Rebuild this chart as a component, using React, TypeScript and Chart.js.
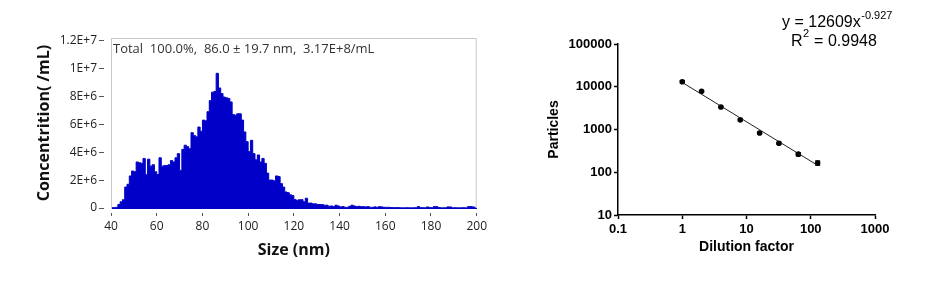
import React, { useEffect, useRef } from 'react';
import { Chart, registerables } from 'chart.js';

Chart.register(...registerables);

// ---------- Left chart: size distribution ----------
const sizeNm = [
  40, 41, 42, 43, 44, 45, 46, 47, 48, 49, 50, 51, 52, 53, 54, 55, 56, 57, 58, 59,
  60, 61, 62, 63, 64, 65, 66, 67, 68, 69, 70, 71, 72, 73, 74, 75, 76, 77, 78, 79,
  80, 81, 82, 83, 84, 85, 86, 87, 88, 89, 90, 91, 92, 93, 94, 95, 96, 97, 98, 99,
  100, 101, 102, 103, 104, 105, 106, 107, 108, 109, 110, 111, 112, 113, 114, 115, 116, 117, 118, 119,
  120, 121, 122, 123, 124, 125, 126, 127, 128, 129, 130, 131, 132, 133, 134, 135, 136, 137, 138, 139,
  140, 141, 142, 143, 144, 145, 146, 147, 148, 149, 150, 151, 152, 153, 154, 155, 156, 157, 158, 159,
  160, 161, 162, 163, 164, 165, 166, 167, 168, 169, 170, 171, 172, 173, 174, 175, 176, 177, 178, 179,
  180, 181, 182, 183, 184, 185, 186, 187, 188, 189, 190, 191, 192, 193, 194, 195, 196, 197, 198, 199,
];

// concentration in units of 1E+6 particles/mL, one value per 1 nm bin
const concMillions = [
  0.03, 0.03, 0.05, 0.25, 0.45, 0.6, 1.5, 1.7, 2.3, 2.65, 2.6, 3.3, 3.25, 3.2, 3.55, 2.4, 3.5, 3.0, 3.1, 2.6,
  2.4, 3.6, 3.0, 3.05, 3.05, 3.1, 3.4, 3.3, 3.6, 3.9, 2.7, 4.2, 4.5, 4.4, 4.25, 5.4, 5.2, 5.1, 5.8, 5.5,
  6.3, 6.25, 6.9, 7.7, 8.3, 8.35, 9.65, 8.6, 8.2, 7.95, 7.9, 7.85, 7.6, 6.7, 6.65, 6.75, 6.75, 6.3, 5.45, 4.75,
  4.05, 4.85, 3.9, 3.45, 3.8, 3.3, 3.55, 3.2, 2.5, 2.0, 2.0, 1.95, 2.3, 2.25, 1.75, 1.5, 1.15, 1.1, 0.95, 0.9,
  0.6, 0.55, 0.6, 0.6, 0.45, 0.7, 0.35, 0.35, 0.3, 0.3, 0.25, 0.25, 0.25, 0.2, 0.2, 0.12, 0.15, 0.1, 0.2, 0.15,
  0.08, 0.1, 0.05, 0.05, 0.12, 0.2, 0.15, 0.1, 0.12, 0.1, 0.1, 0.08, 0.1, 0.05, 0.05, 0.08, 0.05, 0.1, 0.08, 0.05,
  0.05, 0.05, 0.03, 0.03, 0.03, 0.03, 0.02, 0.02, 0.02, 0.02, 0.02, 0.02, 0.02, 0.02, 0.1, 0.03, 0.02, 0.02, 0.08, 0.03,
  0.02, 0.1, 0.1, 0.03, 0.02, 0.02, 0.02, 0.08, 0.08, 0.02, 0.02, 0.02, 0.02, 0.02, 0.02, 0.02, 0.1, 0.1, 0.08, 0.05,
];

const concTicks = [0, 2e6, 4e6, 6e6, 8e6, 1e7, 1.2e7];
const concTickLabels = ['0', '2E+6', '4E+6', '6E+6', '8E+6', '1E+7', '1.2E+7'];
const sizeTicks = [40, 60, 80, 100, 120, 140, 160, 180, 200];
const summaryText = 'Total  100.0%,  86.0 \u00B1 19.7 nm,  3.17E+8/mL';

// ---------- Right chart: dilution series ----------
const dilution = [1, 2, 4, 8, 16, 32, 64, 128];
const particles = [13100, 7800, 3350, 1680, 830, 475, 265, 165];
const particlesSD = [900, 350, 150, 80, 40, 30, 25, 20];
const fitX = [1, 128];
const fitY = [12609, 145];
const dilutionTicks = [0.1, 1, 10, 100, 1000];
const particleTicks = [10, 100, 1000, 10000, 100000];
const equationMain = 'y = 12609x';
const equationExp = '-0.927';
const r2Label = 'R';
const r2Rest = ' = 0.9948';

const UI_FONT = '"Open Sans", "DejaVu Sans", sans-serif';
const ARIAL = '"Liberation Sans", Arial, sans-serif';
const HIST_BLUE = '#0000c8';

const boxPlugin = {
  id: 'histBox',
  beforeDatasetsDraw(chart: any) {
    const { ctx, chartArea } = chart;
    const { left, top, right, bottom } = chartArea;
    ctx.save();
    ctx.strokeStyle = '#c8c8c8';
    ctx.lineWidth = 1;
    ctx.beginPath();
    ctx.moveTo(left, top + 0.5);
    ctx.lineTo(right - 0.5, top + 0.5);
    ctx.lineTo(right - 0.5, bottom);
    ctx.stroke();
    ctx.restore();
  },
  afterDraw(chart: any) {
    const { ctx, chartArea } = chart;
    ctx.save();
    ctx.font = `13px ${UI_FONT}`;
    ctx.fillStyle = '#333';
    ctx.textBaseline = 'middle';
    ctx.textAlign = 'left';
    ctx.fillText(summaryText, chartArea.left + 2, chartArea.top + 11);
    ctx.restore();
  },
};

const errorBarPlugin = {
  id: 'errorBars',
  afterDatasetsDraw(chart: any) {
    const { ctx } = chart;
    const xs = chart.scales.x;
    const ys = chart.scales.y;
    ctx.save();
    ctx.strokeStyle = '#000';
    ctx.lineWidth = 1;
    dilution.forEach((d, i) => {
      const x = xs.getPixelForValue(d);
      const yHi = ys.getPixelForValue(particles[i] + particlesSD[i]);
      const yLo = ys.getPixelForValue(particles[i] - particlesSD[i]);
      ctx.beginPath();
      ctx.moveTo(x, yHi);
      ctx.lineTo(x, yLo);
      ctx.moveTo(x - 2.5, yHi);
      ctx.lineTo(x + 2.5, yHi);
      ctx.moveTo(x - 2.5, yLo);
      ctx.lineTo(x + 2.5, yLo);
      ctx.stroke();
    });
    ctx.restore();
  },
};

const equationPlugin = {
  id: 'equation',
  afterDraw(chart: any) {
    const { ctx } = chart;
    ctx.save();
    ctx.fillStyle = '#000';
    ctx.textAlign = 'left';
    ctx.textBaseline = 'alphabetic';
    ctx.font = `16px ${ARIAL}`;
    const x1 = 292;
    ctx.fillText(equationMain, x1, 27);
    const w1 = ctx.measureText(equationMain).width;
    ctx.font = `11px ${ARIAL}`;
    ctx.fillText(equationExp, x1 + w1 + 0.5, 18.5);
    ctx.font = `16px ${ARIAL}`;
    const x2 = 301;
    ctx.fillText(r2Label, x2, 45.5);
    const wr = ctx.measureText(r2Label).width;
    ctx.font = `11px ${ARIAL}`;
    ctx.fillText('2', x2 + wr + 0.5, 37);
    const w2 = ctx.measureText('2').width;
    ctx.font = `16px ${ARIAL}`;
    ctx.fillText(r2Rest, x2 + wr + w2 + 1, 45.5);
    ctx.restore();
  },
};

export default function App() {
  const leftRef = useRef<HTMLCanvasElement>(null);
  const rightRef = useRef<HTMLCanvasElement>(null);

  useEffect(() => {
    const histData = sizeNm.map((s, i) => ({ x: s + 0.5, y: concMillions[i] * 1e6 }));
    const left = new Chart(leftRef.current as HTMLCanvasElement, {
      type: 'line',
      data: {
        datasets: [
          {
            data: histData as any,
            stepped: 'middle',
            fill: 'origin',
            backgroundColor: HIST_BLUE,
            borderColor: HIST_BLUE,
            borderWidth: 1,
            pointRadius: 0,
          },
        ],
      },
      options: {
        animation: false,
        responsive: false,
        maintainAspectRatio: false,
        layout: { padding: { top: 38, right: 12, left: 0, bottom: 0 } },
        plugins: { legend: { display: false }, tooltip: { enabled: false } },
        scales: {
          x: {
            type: 'linear',
            min: 40,
            max: 200,
            offset: false,
            afterBuildTicks: (s: any) => {
              s.ticks = sizeTicks.map((v) => ({ value: v }));
            },
            afterFit: (s: any) => {
              s.height = 80;
            },
            grid: {
              offset: false,
              drawOnChartArea: false,
              drawTicks: true,
              tickLength: 8,
              tickColor: '#555',
              tickWidth: 1,
              tickBorderDash: [4, 4],
              tickBorderDashOffset: 4,
            } as any,
            border: { display: true, color: HIST_BLUE, width: 1 },
            ticks: {
              autoSkip: false,
              maxRotation: 0,
              padding: 3,
              color: '#222',
              font: { family: UI_FONT, size: 12 },
              callback: (v: any) => String(v),
            },
            title: {
              display: true,
              text: 'Size (nm)',
              color: '#111',
              font: { family: UI_FONT, size: 16, weight: 'bold' },
              padding: { top: 0, bottom: 28 },
            },
          },
          y: {
            min: 0,
            max: 1.218e7,
            afterBuildTicks: (s: any) => {
              s.ticks = concTicks.map((v) => ({ value: v }));
            },
            afterFit: (s: any) => {
              s.width = 111;
            },
            grid: {
              drawOnChartArea: false,
              drawTicks: true,
              tickLength: 12,
              tickColor: '#555',
              tickWidth: 1,
              tickBorderDash: [5, 7],
            } as any,
            border: { display: true, color: '#c8c8c8', width: 1 },
            ticks: {
              padding: 2,
              color: '#222',
              font: { family: UI_FONT, size: 12 },
              callback: (v: any) => concTickLabels[concTicks.indexOf(Number(v))],
            },
            title: {
              display: true,
              text: 'Concentrition( /mL)',
              color: '#111',
              font: { family: UI_FONT, size: 16, weight: 'bold' },
              padding: { top: 35, bottom: 0 },
            },
          },
        },
      } as any,
      plugins: [boxPlugin],
    });

    const right = new Chart(rightRef.current as HTMLCanvasElement, {
      type: 'scatter',
      data: {
        datasets: [
          {
            data: fitX.map((x, i) => ({ x, y: fitY[i] })),
            showLine: true,
            borderColor: '#222',
            borderWidth: 1,
            pointRadius: 0,
            fill: false,
          },
          {
            data: dilution.map((x, i) => ({ x, y: particles[i] })),
            pointRadius: 2.8,
            backgroundColor: '#000',
            borderColor: '#000',
            borderWidth: 0,
          },
        ],
      },
      options: {
        animation: false,
        responsive: false,
        maintainAspectRatio: false,
        layout: { padding: { top: 44, right: 75, left: 0, bottom: 0 } },
        plugins: { legend: { display: false }, tooltip: { enabled: false } },
        scales: {
          x: {
            type: 'logarithmic',
            min: 0.1,
            max: 1000,
            afterBuildTicks: (s: any) => {
              s.ticks = dilutionTicks.map((v) => ({ value: v }));
            },
            afterFit: (s: any) => {
              s.height = 73;
            },
            grid: { drawOnChartArea: false, drawTicks: true, tickLength: 4, tickColor: '#000', tickWidth: 1.5 },
            border: { display: true, color: '#000', width: 1.5 },
            ticks: {
              autoSkip: false,
              maxRotation: 0,
              padding: 3,
              color: '#000',
              font: { family: ARIAL, size: 13, weight: 'bold' },
              callback: (v: any) => String(v),
            },
            title: {
              display: true,
              text: 'Dilution factor',
              color: '#000',
              font: { family: ARIAL, size: 14, weight: 'bold' },
              padding: { top: 0, bottom: 32 },
            },
          },
          y: {
            type: 'logarithmic',
            min: 10,
            max: 100000,
            afterBuildTicks: (s: any) => {
              s.ticks = particleTicks.map((v) => ({ value: v }));
            },
            afterFit: (s: any) => {
              s.width = 128;
            },
            grid: { drawOnChartArea: false, drawTicks: true, tickLength: 4, tickColor: '#000', tickWidth: 1.5 },
            border: { display: true, color: '#000', width: 1.5 },
            ticks: {
              padding: 2,
              color: '#000',
              font: { family: ARIAL, size: 13, weight: 'bold' },
              callback: (v: any) => String(v),
            },
            title: {
              display: true,
              text: 'Particles',
              color: '#000',
              font: { family: ARIAL, size: 14, weight: 'bold' },
              padding: { top: 56, bottom: 0 },
            },
          },
        },
      } as any,
      plugins: [errorBarPlugin, equationPlugin],
    });

    return () => {
      left.destroy();
      right.destroy();
    };
  }, []);

  return (
    <div style={{ position: 'absolute', left: 0, top: 0, width: 950, height: 288, background: '#fff' }}>
      <canvas
        ref={leftRef}
        width={490}
        height={288}
        style={{ position: 'absolute', left: 0, top: 0, width: 490, height: 288 }}
      />
      <canvas
        ref={rightRef}
        width={460}
        height={288}
        style={{ position: 'absolute', left: 490, top: 0, width: 460, height: 288 }}
      />
    </div>
  );
}
